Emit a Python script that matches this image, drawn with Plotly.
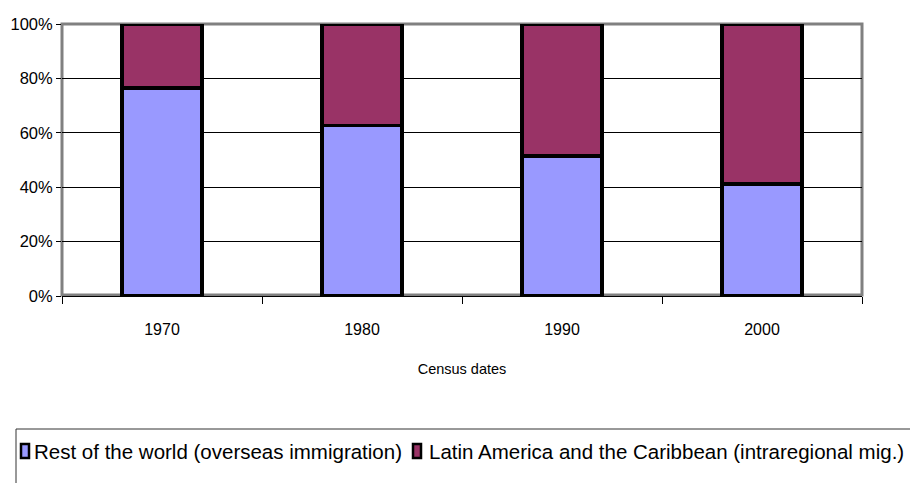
import plotly.graph_objects as go

# Share of immigrants by origin at each census round (percent)
census_dates = ["1970", "1980", "1990", "2000"]
rest_of_world = [76.5, 62.7, 51.4, 41.2]
latin_america = [23.5, 37.3, 48.6, 58.8]

series_names = [
    "Rest of the world (overseas immigration)",
    "Latin America and the Caribbean (intraregional mig.)",
]
series_colors = ["#9999FF", "#993366"]

y_ticks = [0, 20, 40, 60, 80, 100]
y_tick_labels = ["0%", "20%", "40%", "60%", "80%", "100%"]

FONT = "Liberation Sans, Arial, sans-serif"

W, H = 910, 483
ML, MR, MT, MB = 62, 48, 24, 187
PW, PH = W - ML - MR, H - MT - MB


def px_x(x):
    """Pixel column -> paper x."""
    return (x - ML) / PW


def px_y(y):
    """Pixel row -> paper y."""
    return (H - MB - y) / PH


fig = go.Figure()
for name, vals, color in zip(series_names, [rest_of_world, latin_america], series_colors):
    fig.add_trace(go.Bar(
        x=census_dates, y=vals, name=name,
        marker=dict(color=color, line=dict(color="black", width=3.5)),
    ))

fig.update_layout(
    barmode="stack",
    bargap=0.6,
    width=W, height=H,
    margin=dict(l=ML, r=MR, t=MT, b=MB, autoexpand=False),
    paper_bgcolor="white",
    plot_bgcolor="white",
    font=dict(family=FONT, color="black", size=16),
    showlegend=False,
    xaxis=dict(
        type="category",
        tickson="boundaries",
        ticks="outside", ticklen=7, tickcolor="black",
        ticklabelstandoff=19,
        showline=True, linecolor="black", linewidth=1,
        showgrid=False,
        tickfont=dict(size=16),
        title=dict(text="Census dates", font=dict(size=14.5), standoff=26),
        automargin=False,
    ),
    yaxis=dict(
        range=[0, 100],
        tickvals=y_ticks, ticktext=y_tick_labels,
        ticks="outside", ticklen=5, tickcolor="black",
        showline=False,
        showgrid=True, gridcolor="black", gridwidth=1,
        tickfont=dict(size=16.5),
        zeroline=False,
        automargin=False,
    ),
)

# Grey plot-area frame
fig.add_shape(
    type="rect", xref="paper", yref="paper",
    x0=0, x1=1, y0=px_y(295), y1=1,
    line=dict(color="#808080", width=3),
    layer="below",
)

# Legend box along the bottom of the chart
fig.add_shape(
    type="rect", xref="paper", yref="paper",
    x0=px_x(16), x1=px_x(925), y0=px_y(500), y1=px_y(429),
    line=dict(color="#333333", width=1), fillcolor="white",
)

legend_items = [
    (series_names[0], series_colors[0], 21, 32),
    (series_names[1], series_colors[1], 413, 427),
]
for text, color, sym_x, text_x in legend_items:
    fig.add_shape(
        type="rect", xref="paper", yref="paper",
        x0=px_x(sym_x), x1=px_x(sym_x + 8), y0=px_y(458), y1=px_y(444),
        line=dict(color="black", width=2.5), fillcolor=color,
    )
    fig.add_annotation(
        text=text, xref="paper", yref="paper",
        x=px_x(text_x), y=px_y(451.5), xanchor="left", yanchor="middle",
        showarrow=False, font=dict(family=FONT, size=20.5, color="black"),
    )

fig.write_html("out.html")
